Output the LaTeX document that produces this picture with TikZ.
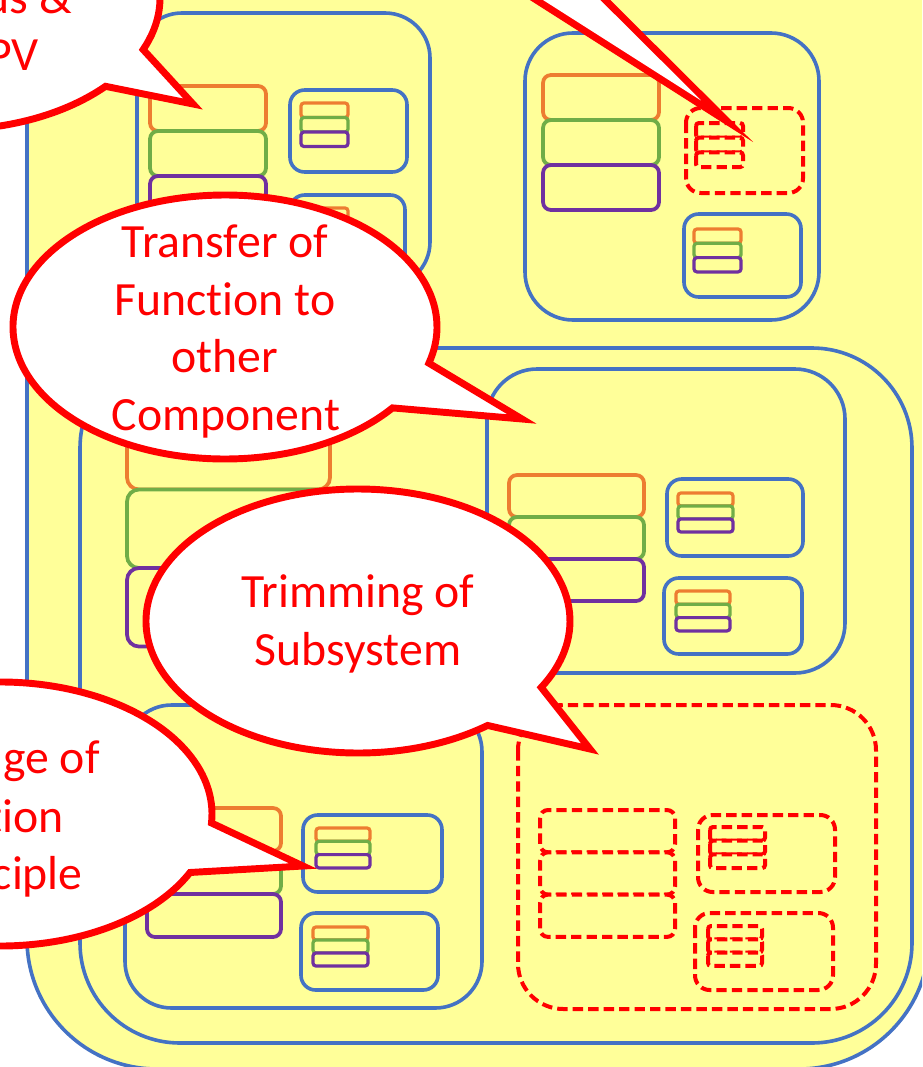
\documentclass[tikz,border=0pt]{standalone}
\usepackage{fontspec}
\setmainfont{Carlito}[Ligatures=NoCommon]
\usetikzlibrary{calc}

\definecolor{sysblue}{HTML}{4472C4}
\definecolor{cOrange}{HTML}{ED7D31}
\definecolor{cGreen}{HTML}{70AD47}
\definecolor{cPurple}{HTML}{7030A0}
\definecolor{paleyellow}{HTML}{FFFF99}

\tikzset{
  sysbox/.style={draw=sysblue, line width=2.7pt, fill=paleyellow},
  part/.style={line width=2.8pt, fill=paleyellow},
  mini/.style={line width=2.4pt, fill=paleyellow},
  trimmed/.style={draw=red, line width=3pt, dash pattern=on 7.8pt off 3.8pt},
  bubble/.style={draw=red, line width=5.2pt, fill=white, line join=miter, miter limit=25},
  say/.style={text=red, font=\fontsize{35.8pt}{43pt}\selectfont, inner sep=0pt},
}

% three stacked components: x, top y, width, height of one, corner radius, style
\newcommand\drawtrio[6]{%
  \draw[draw=cOrange, rounded corners=#5, #6] (#1,#2) rectangle ++(#3,#4);
  \draw[draw=cGreen, rounded corners=#5, #6] (#1,#2+#4) rectangle ++(#3,#4);
  \draw[draw=cPurple, rounded corners=#5, #6] (#1,#2+2*#4) rectangle ++(#3,#4);
}

\begin{document}
\begin{tikzpicture}[x=0.75pt, y=-0.75pt]
\useasboundingbox (0,0) rectangle (922,1067);
\clip (0,0) rectangle (922,1067);
\fill[white] (0,0) rectangle (922,1067);

% outermost system
\draw[sysbox, rounded corners=97.5pt] (27,-200) rectangle (929,1069);

% subsystem A (upper left)
\draw[sysbox, rounded corners=33.75pt] (137,13) rectangle (430,287);
\drawtrio{150}{86}{116}{45}{6pt}{part}
\draw[sysbox, rounded corners=11pt] (290,90) rectangle (407,172);
\drawtrio{301}{103}{47}{14.5}{2.2pt}{mini}
\draw[sysbox, rounded corners=11pt] (290,195) rectangle (405,278);
\drawtrio{301}{208}{47}{14.5}{2.2pt}{mini}

% subsystem B (upper right)
\draw[sysbox, rounded corners=36pt] (525,33) rectangle (819,320);
\drawtrio{543}{75}{116}{45}{6pt}{part}
\draw[part, trimmed, rounded corners=11pt] (686,108) rectangle (803,193);
\drawtrio{696}{123}{47}{14.7}{2.2pt}{mini,trimmed}
\draw[sysbox, rounded corners=11pt] (684,214) rectangle (801,297);
\drawtrio{694}{229}{47}{14.3}{2.2pt}{mini}

% middle system
\draw[sysbox, rounded corners=75pt] (80,348) rectangle (912,1043);
\drawtrio{127}{411}{203}{78.5}{9pt}{part}

% its upper right subsystem
\draw[sysbox, rounded corners=37.5pt] (487,369) rectangle (845,673);
\drawtrio{509}{475}{135}{42}{6pt}{part}
\draw[sysbox, rounded corners=11pt] (667,479) rectangle (803,556);
\drawtrio{678}{493}{55}{13}{2.2pt}{mini}
\draw[sysbox, rounded corners=11pt] (664,578) rectangle (802,654);
\drawtrio{676}{591}{54}{13.3}{2.2pt}{mini}

% its lower left subsystem
\draw[sysbox, rounded corners=35pt] (125,705) rectangle (482,1008);
\drawtrio{147}{808}{134}{43}{6pt}{part}
\draw[sysbox, rounded corners=11pt] (303,815) rectangle (442,892);
\drawtrio{316}{828}{54}{13.3}{2.2pt}{mini}
\draw[sysbox, rounded corners=11pt] (301,913) rectangle (438,990);
\drawtrio{313}{927}{55}{13}{2.2pt}{mini}

% its trimmed subsystem (dashed)
\draw[part, trimmed, rounded corners=34pt] (518,705) rectangle (876,1009);
\drawtrio{540}{810}{135}{42.3}{6pt}{part,trimmed}
\draw[part, trimmed, rounded corners=11pt] (698,815) rectangle (835,892);
\drawtrio{710}{827}{55}{13.7}{2.2pt}{mini,trimmed}
\draw[part, trimmed, rounded corners=11pt] (695,913) rectangle (833,990);
\drawtrio{708}{926}{54}{13.3}{2.2pt}{mini,trimmed}

% ---- speech bubbles ----
\coordinate (cTL) at (-52,-2);   \coordinate (tipTL) at (193,104);
\coordinate (cT) at (225,327);   \coordinate (tipT) at (522,419);
\coordinate (cS) at (358,621);   \coordinate (tipS) at (590,749);
\coordinate (cL) at (0,814);     \coordinate (tipL) at (303,866);
\coordinate (tipTop) at (728,122);
\coordinate (topA) at (442,-60); \coordinate (topB) at (545,-60);

% pointer of the bubble above the picture
\draw[bubble] (topA) -- (tipTop) -- (topB);

\draw[bubble] ($(cTL)+(23:212 and 132)$) -- (tipTL) -- ($(cTL)+(42:212 and 132)$)
  arc[start angle=42, end angle=383, x radius=212, y radius=132] -- cycle;
\node[say, anchor=base east] (tl1) at (72,13) {us \&};
\node[say, anchor=base east] (tl2) at (39,70) {PV};

\draw[bubble] ($(cT)+(15.9:212 and 132)$) -- (tipT) -- ($(cT)+(37.8:212 and 132)$)
  arc[start angle=37.8, end angle=375.9, x radius=212, y radius=132] -- cycle;
\node[say, anchor=base] (t1) at (225,257) {Transfer of};
\node[say, anchor=base] (t2) at (225,315) {Function to};
\node[say, anchor=base] (t3) at (225,372) {other};
\node[say, anchor=base] (t4) at (226,430) {Component};

\draw[bubble] ($(cS)+(30.2:212 and 132)$) -- (tipS) -- ($(cS)+(52.3:212 and 132)$)
  arc[start angle=52.3, end angle=390.2, x radius=212, y radius=132] -- cycle;
\node[say, anchor=base] (s1) at (358,607) {Trimming of};
\node[say, anchor=base] (s2) at (358,665) {Subsystem};

\draw[bubble] ($(cL)+(3.9:212 and 132)$) -- (tipL) -- ($(cL)+(26.3:212 and 132)$)
  arc[start angle=26.3, end angle=363.9, x radius=212, y radius=132] -- cycle;
\node[say, anchor=base east] (l1) at (100,773) {ge of};
\node[say, anchor=base east] (l2) at (64,832) {tion};
\node[say, anchor=base east] (l3) at (83,889) {ciple};
\end{tikzpicture}
\end{document}
